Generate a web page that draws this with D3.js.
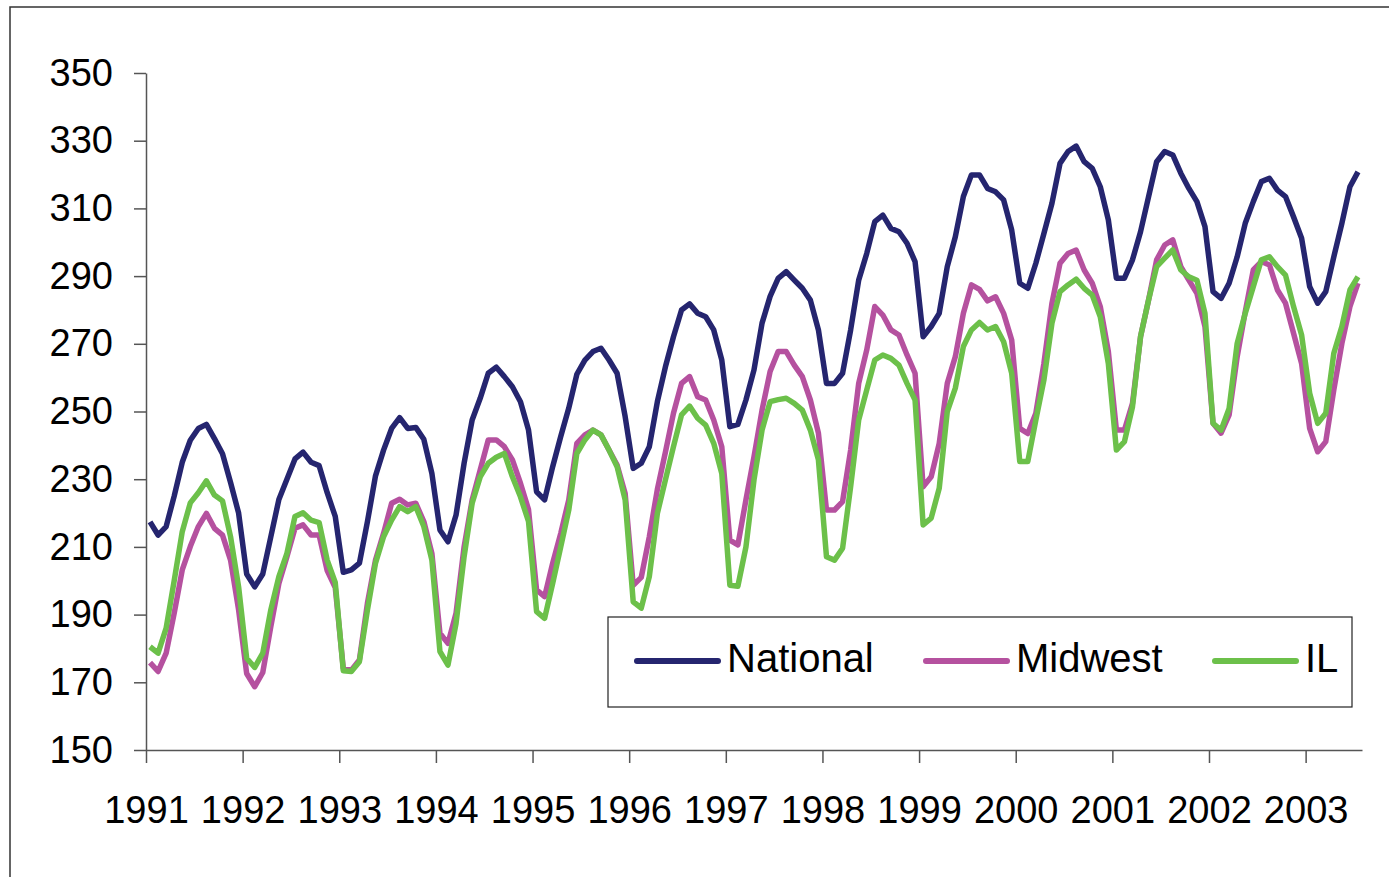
<html>
<script src='https://d3js.org/d3.v7.min.js'></script>
<style>
body {
    margin: 0;
    background: white;
}
text {
    font-family: "Liberation Sans", Arial, sans-serif;
    fill: black;
}
</style>
<body>
<svg width="1389" height="877"></svg>
<script>
// monthly values, Jan 1991 - Jul 2003
var national = [
    217.4, 213.5, 216, 225, 235, 241.5, 245, 246.2, 242, 237.5, 229, 220,
    202, 198.2, 202, 213, 224, 230, 236, 238, 235, 234, 226, 219,
    202.5, 203.2, 205.2, 217.5, 231, 238.6, 245, 248.2, 245, 245.3, 241.8, 231.7,
    215, 211.5, 219.4, 234.7, 247.5, 253.9, 261.3, 263.1, 260.3, 257.3, 252.9, 244.5,
    226.3, 223.9, 233.7, 242.6, 251, 261, 265.2, 267.7, 268.7, 265.2, 261.3, 248.5,
    233.2, 234.7, 239.6, 252.9, 263.2, 272.1, 280, 281.8, 279, 278, 274.1, 265.2,
    245.5, 246.2, 253.4, 262.3, 276.1, 284, 289.3, 291.3, 288.8, 286.4, 282.9, 274.1,
    258.3, 258.3, 261.3, 274.1, 288.8, 296.7, 306.1, 308, 304.1, 303.1, 299.7, 294.3,
    272.1, 275.1, 279, 292.8, 301.6, 313.5, 319.9, 319.9, 315.9, 314.9, 312.5, 303.6,
    287.9, 286.4, 293.8, 302.6, 311.5, 323.3, 326.8, 328.4, 323.8, 321.8, 316.4, 306.6,
    289.4, 289.4, 294.8, 303.1, 313.5, 323.8, 326.8, 325.8, 320.4, 315.9, 312, 304.6,
    285.4, 283.4, 287.9, 295.7, 305.6, 312, 317.9, 318.9, 315.4, 313.5, 307.5, 301.2,
    286.9, 282, 285.4, 295.7, 305.6, 316.4, 320.8
];
var midwest = [
    175.8, 173.2, 178.6, 190.4, 203.2, 210.1, 216, 219.9, 215.5, 213.5, 206.1, 191.4,
    172.6, 168.7, 172.9, 186.5, 199.2, 207.1, 215.5, 216.5, 213.5, 213.5, 203, 198,
    174.1, 173.6, 176.6, 193.4, 206.1, 214, 222.9, 224.1, 222.4, 222.9, 217.5, 208.1,
    184.5, 181.5, 190.4, 210, 223.9, 232.7, 241.6, 241.6, 239.6, 235.7, 228.8, 221,
    197.3, 195.3, 205.2, 214, 223.9, 240.6, 243.1, 244.5, 243.1, 238.6, 234.2, 225.8,
    198.7, 201, 213, 227, 238, 249.5, 258.3, 260.3, 254.4, 253.4, 247.5, 239.6,
    212, 210.6, 223.9, 236.6, 250.4, 261.8, 267.7, 267.7, 263.7, 260.3, 253.4, 243.6,
    220.9, 220.9, 223.4, 238.6, 258.3, 268.2, 281, 278.5, 274.1, 272.6, 266.7, 261.3,
    227.8, 230.7, 240.6, 258.3, 266.2, 279, 287.4, 286.1, 282.7, 283.9, 279, 271.1,
    245, 243.5, 249.5, 264.2, 282, 293.8, 296.7, 297.7, 291.8, 287.9, 281, 267.7,
    244.5, 244.5, 252.4, 272.1, 283, 294.8, 299.2, 300.7, 292.8, 288.8, 284.9, 275.1,
    246.5, 243.6, 249, 266.2, 279.5, 291.8, 294.3, 293.3, 285.9, 282, 273.1, 264.2,
    245, 238.1, 241.1, 256.4, 270.1, 281, 287.9
];
var il = [
    180.5, 178.6, 186, 200, 214.5, 223, 226, 229.5, 225.3, 223.6, 213, 198.2,
    177.1, 174.4, 178.6, 191.4, 201.2, 208.1, 219, 220.1, 217.9, 217.2, 206.1, 199.5,
    173.4, 173.2, 176.1, 191.4, 205.2, 213, 217.9, 221.9, 220.4, 221.9, 216, 206.1,
    179.1, 175.1, 187.4, 207.1, 222.9, 230.7, 234.7, 236.5, 237.6, 230.7, 224.8, 217.5,
    190.9, 188.9, 199.2, 210, 220.9, 237.6, 241.6, 244.5, 243.1, 238.6, 233.7, 223.9,
    193.8, 191.9, 201.2, 219.9, 229.8, 239.6, 249, 251.6, 248, 246, 240.6, 231.7,
    198.7, 198.4, 210, 229.8, 244.5, 252.9, 253.5, 253.9, 252.4, 250.4, 244.5, 235.7,
    207.1, 206.1, 209.6, 227.8, 247.5, 256.4, 265.2, 266.7, 265.7, 263.7, 258.3, 253.4,
    216.5, 218.5, 227.3, 250, 256.9, 269.2, 274.1, 276.3, 274.1, 275.1, 270.6, 261.3,
    235.2, 235.2, 247.5, 259.3, 276.1, 285.4, 287.4, 289.1, 286.4, 284.4, 278, 264.2,
    238.6, 241.1, 251.4, 272.1, 283, 292.8, 295.3, 297.7, 291.8, 289.8, 288.8, 279,
    246.5, 244.5, 250.9, 270.1, 279, 286.9, 294.8, 295.7, 292.8, 290.3, 281, 272.6,
    255.4, 246.5, 249.5, 267.2, 275.1, 285.9, 289.8
];
var seriesNames = ["National", "Midwest", "IL"];
var colors = ["#25256f", "#b5519f", "#6cc04a"];
var years = [1991, 1992, 1993, 1994, 1995, 1996, 1997, 1998, 1999, 2000, 2001, 2002, 2003];
var yTicks = [150, 170, 190, 210, 230, 250, 270, 290, 310, 330, 350];

// plot box (window.top is reserved, so no plain "top")
var plotLeft = 146, plotRight = 1362, plotTop = 73, plotBottom = 750;
var svg = d3.select("svg");

// outer frame, runs off the right and bottom of the picture
svg.append("rect")
    .attr("x", 10).attr("y", 7)
    .attr("width", 1420).attr("height", 920)
    .attr("fill", "none")
    .attr("stroke", "#333")
    .attr("stroke-width", 1.5);

// one band per month, point in the middle of it
var x = d3.scaleBand().domain(d3.range(national.length)).range([plotLeft, plotRight]).padding(0);
var xYear = d3.scaleLinear().domain([1991, 1991 + national.length / 12]).range([plotLeft, plotRight]);
var y = d3.scaleLinear().domain([150, 350]).range([plotBottom, plotTop]);

var yAxis = svg.append("g")
    .attr("transform", "translate(" + plotLeft + ",0)")
    .call(d3.axisLeft(y).tickValues(yTicks).tickSize(12).tickSizeOuter(0).tickPadding(21));
yAxis.selectAll("text").attr("font-size", "38px").attr("font-family", "Liberation Sans, Arial, sans-serif");

var xAxis = svg.append("g")
    .attr("transform", "translate(0," + plotBottom + ")")
    .call(d3.axisBottom(xYear).tickValues(years).tickFormat(d3.format("d")).tickSize(13).tickSizeOuter(0).tickPadding(33));
xAxis.selectAll("text").attr("font-size", "38px").attr("font-family", "Liberation Sans, Arial, sans-serif");

svg.selectAll(".domain, .tick line").attr("stroke", "#555").attr("stroke-width", 1.5);

var line = d3.line()
    .x(function(d, i) { return x(i) + x.bandwidth() / 2; })
    .y(function(d) { return y(d); });

[national, midwest, il].forEach(function(s, k) {
    svg.append("path")
        .datum(s)
        .attr("d", line)
        .attr("fill", "none")
        .attr("stroke", colors[k])
        .attr("stroke-width", 5.5)
        .attr("stroke-linejoin", "round");
});

// legend
var legend = svg.append("g");
legend.append("rect")
    .attr("x", 608).attr("y", 617)
    .attr("width", 744).attr("height", 90)
    .attr("fill", "white")
    .attr("stroke", "#222")
    .attr("stroke-width", 1.2);

seriesNames.forEach(function(name, k) {
    var lx = 637 + k * 289;
    legend.append("line")
        .attr("x1", lx).attr("x2", lx + 81)
        .attr("y1", 661).attr("y2", 661)
        .attr("stroke", colors[k])
        .attr("stroke-width", 6)
        .attr("stroke-linecap", "round");
    legend.append("text")
        .attr("x", lx + 90)
        .attr("y", 672)
        .attr("font-size", "40px")
        .text(name);
});
</script>
</body>
</html>
